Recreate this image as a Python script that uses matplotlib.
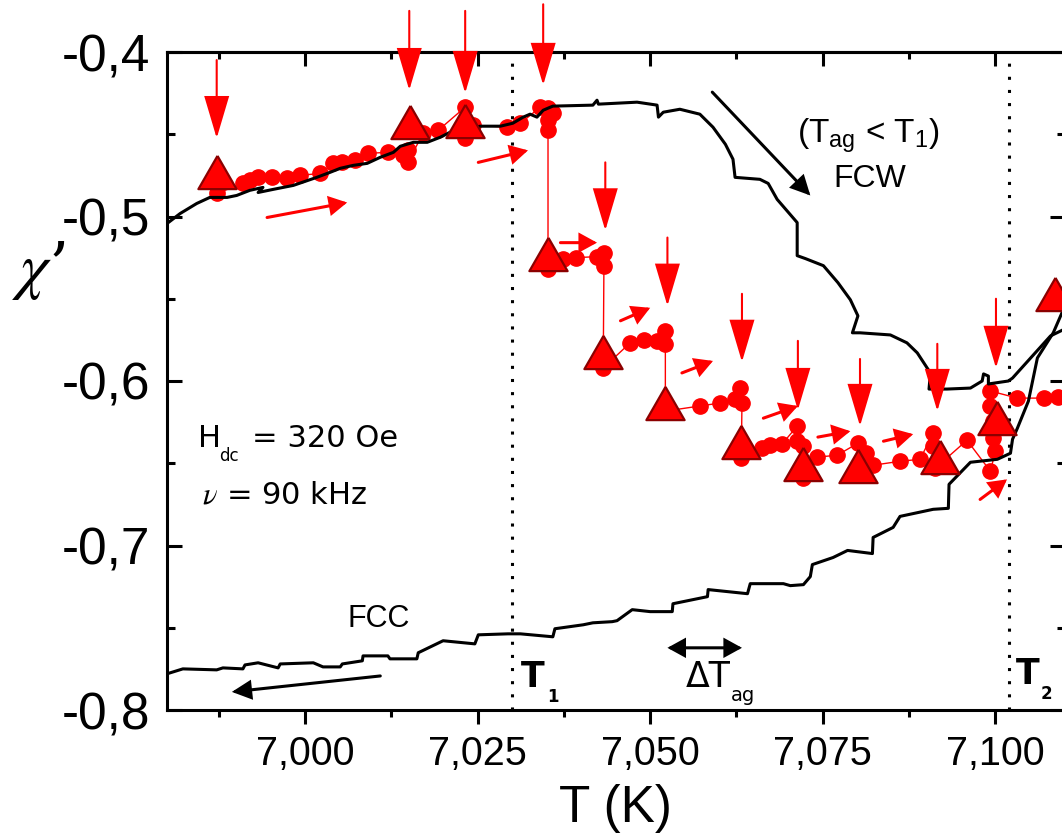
import numpy as np
import matplotlib
matplotlib.use("Agg")
import matplotlib.pyplot as plt
from matplotlib import ticker

plt.rcParams['font.family'] = ['Liberation Sans', 'DejaVu Sans']

# FCW curve (black, upper)
fcw_T = [6.9800, 6.9819, 6.9843, 6.9862, 6.9887, 6.9901, 6.9920, 6.9939, 6.9932, 6.9954,
         6.9983, 7.0017, 7.0036, 7.0051, 7.0070, 7.0090, 7.0109, 7.0128, 7.0138, 7.0157,
         7.0177, 7.0196, 7.0210, 7.0254, 7.0283, 7.0301, 7.0316, 7.0326, 7.0336, 7.0345,
         7.0359, 7.0417, 7.0423, 7.0425, 7.0481, 7.0510, 7.0512, 7.0519, 7.0543, 7.0572,
         7.0591, 7.0609, 7.0620, 7.0623, 7.0659, 7.0671, 7.0684, 7.0713, 7.0713, 7.0725,
         7.0751, 7.0772, 7.0790, 7.0801, 7.0793, 7.0804, 7.0848, 7.0872, 7.0887, 7.0906,
         7.0904, 7.0930, 7.0964, 7.0981, 7.0983, 7.0990, 7.0990, 7.1019, 7.1025, 7.1080,
         7.1101]
fcw_chi = [-0.5043, -0.4982, -0.4921, -0.4884, -0.4884, -0.4872, -0.4841, -0.4823, -0.4854, -0.4835,
           -0.4811, -0.4762, -0.4732, -0.4707, -0.4689, -0.4677, -0.4640, -0.4610, -0.4573, -0.4549,
           -0.4549, -0.4518, -0.4488, -0.4451, -0.4451, -0.4433, -0.4396, -0.4378, -0.4396, -0.4354,
           -0.4329, -0.4323, -0.4293, -0.4317, -0.4305, -0.4323, -0.4396, -0.4366, -0.4348, -0.4378,
           -0.4457, -0.4561, -0.4652, -0.4762, -0.4774, -0.4799, -0.4896, -0.5037, -0.5238, -0.5256,
           -0.5299, -0.5402, -0.5506, -0.5604, -0.5707, -0.5707, -0.5720, -0.5768, -0.5829, -0.5951,
           -0.6049, -0.6049, -0.6043, -0.6000, -0.5957, -0.5970, -0.6018, -0.6000, -0.5982, -0.5726,
           -0.5683]

# FCC curve (black, lower)
fcc_T = [6.9800, 6.9823, 6.9872, 6.9881, 6.9910, 6.9913, 6.9932, 6.9961, 6.9964, 7.0012,
         7.0026, 7.0051, 7.0054, 7.0083, 7.0084, 7.0120, 7.0123, 7.0162, 7.0164, 7.0200,
         7.0246, 7.0251, 7.0294, 7.0312, 7.0359, 7.0362, 7.0403, 7.0417, 7.0445, 7.0452,
         7.0474, 7.0500, 7.0532, 7.0533, 7.0583, 7.0584, 7.0641, 7.0645, 7.0693, 7.0703,
         7.0722, 7.0732, 7.0735, 7.0765, 7.0786, 7.0822, 7.0823, 7.0852, 7.0862, 7.0910,
         7.0932, 7.0933, 7.0964, 7.1003, 7.1022, 7.1025, 7.1032, 7.1048, 7.1061, 7.1084,
         7.1101]
fcc_chi = [-0.7780, -0.7750, -0.7756, -0.7744, -0.7750, -0.7726, -0.7713, -0.7744, -0.7720, -0.7713,
           -0.7738, -0.7738, -0.7720, -0.7701, -0.7671, -0.7671, -0.7689, -0.7689, -0.7652, -0.7579,
           -0.7598, -0.7543, -0.7537, -0.7537, -0.7555, -0.7506, -0.7482, -0.7470, -0.7463, -0.7457,
           -0.7390, -0.7402, -0.7402, -0.7354, -0.7311, -0.7268, -0.7293, -0.7232, -0.7232, -0.7244,
           -0.7238, -0.7189, -0.7116, -0.7073, -0.7030, -0.7049, -0.6951, -0.6890, -0.6823, -0.6780,
           -0.6774, -0.6628, -0.6494, -0.6476, -0.6439, -0.6354, -0.6287, -0.6122, -0.5860, -0.5707,
           -0.5543]

# measured points during the aging protocol (red circles)
pts_T = [6.9872, 6.9910, 6.9920, 6.9932, 6.9952, 6.9974, 6.9993, 7.0022, 7.0041, 7.0054,
         7.0072, 7.0091, 7.0120, 7.0142, 7.0149, 7.0149, 7.0171, 7.0193, 7.0232, 7.0232,
         7.0232, 7.0243, 7.0293, 7.0312, 7.0341, 7.0352, 7.0359, 7.0352, 7.0352, 7.0352,
         7.0374, 7.0393, 7.0423, 7.0433, 7.0433, 7.0432, 7.0471, 7.0491, 7.0510, 7.0522,
         7.0522, 7.0522, 7.0572, 7.0601, 7.0623, 7.0630, 7.0633, 7.0632, 7.0662, 7.0674,
         7.0691, 7.0713, 7.0713, 7.0722, 7.0722, 7.0742, 7.0771, 7.0801, 7.0812, 7.0823,
         7.0862, 7.0891, 7.0910, 7.0910, 7.0913, 7.0959, 7.0993, 7.1000, 7.0996, 7.0996,
         7.0993, 7.0993, 7.1032, 7.1070, 7.1091]
pts_chi = [-0.4860, -0.4799, -0.4780, -0.4762, -0.4762, -0.4768, -0.4750, -0.4738, -0.4677, -0.4671,
           -0.4659, -0.4616, -0.4610, -0.4628, -0.4598, -0.4671, -0.4494, -0.4476, -0.4335, -0.4445,
           -0.4524, -0.4445, -0.4457, -0.4433, -0.4335, -0.4341, -0.4372, -0.4415, -0.4476, -0.5317,
           -0.5256, -0.5250, -0.5244, -0.5220, -0.5299, -0.5921, -0.5768, -0.5750, -0.5756, -0.5695,
           -0.5774, -0.6183, -0.6152, -0.6134, -0.6110, -0.6043, -0.6134, -0.6470, -0.6409, -0.6390,
           -0.6384, -0.6274, -0.6366, -0.6396, -0.6591, -0.6463, -0.6451, -0.6378, -0.6439, -0.6512,
           -0.6488, -0.6476, -0.6317, -0.6396, -0.6530, -0.6360, -0.6549, -0.6427, -0.6348, -0.6244,
           -0.6152, -0.6061, -0.6104, -0.6104, -0.6098]

# aging points (triangles)
ag_T = [6.9872, 7.0152, 7.0232, 7.0352, 7.0432, 7.0522, 7.0632, 7.0722, 7.0801, 7.0920, 7.1002, 7.1086]
ag_chi = [-0.4732, -0.4427, -0.4421, -0.5226, -0.5823, -0.6134, -0.6372, -0.6506, -0.6518, -0.6463, -0.6226, -0.5470]

# vertical red arrows marking the aging stops
down_T = [6.9872, 7.0151, 7.0232, 7.0345, 7.0435, 7.0525, 7.0633, 7.0714, 7.0804, 7.0916, 7.1001]
down_top = [-0.4049, -0.3750, -0.3750, -0.3710, -0.4671, -0.5128, -0.5470, -0.5756, -0.5866, -0.5774, -0.5500]
down_tip = [-0.4524, -0.4232, -0.4250, -0.4201, -0.5085, -0.5543, -0.5884, -0.6177, -0.6274, -0.6183, -0.5921]

# small red arrows showing heating direction
heat_T0 = [6.9945, 7.0251, 7.0370, 7.0457, 7.0546, 7.0664, 7.0743, 7.0838, 7.0978]
heat_c0 = [-0.5006, -0.4671, -0.5159, -0.5634, -0.5951, -0.6226, -0.6341, -0.6366, -0.6720]
heat_T1 = [7.0061, 7.0323, 7.0423, 7.0500, 7.0591, 7.0714, 7.0790, 7.0881, 7.1017]
heat_c1 = [-0.4915, -0.4598, -0.5159, -0.5555, -0.5878, -0.6152, -0.6305, -0.6323, -0.6598]

T1 = 7.030
T2 = 7.102

RED = '#ff0000'

fig = plt.figure(figsize=(10.62, 8.33), dpi=100)
ax = fig.add_axes([167 / 1062, 1 - 710 / 833, (1065 - 167) / 1062, (710 - 52) / 833])


def arrow(tail, tip, color, lw, hl, hw, style='-|>', z=5):
    ax.annotate('', xy=tip, xytext=tail,
                arrowprops=dict(arrowstyle=f'{style},head_length={hl},head_width={hw}',
                                color=color, lw=lw, shrinkA=0, shrinkB=0,
                                mutation_scale=10, joinstyle='miter'),
                zorder=z, annotation_clip=False)


ax.axvline(T1, color='black', lw=2.2, ls=(0, (1, 3.3)), zorder=1)
ax.axvline(T2, color='black', lw=2.2, ls=(0, (1, 3.3)), zorder=1)

ax.plot(pts_T, pts_chi, color=RED, lw=1.0, marker='o', ms=11, mec=RED, mfc=RED, zorder=2)
ax.plot(fcw_T, fcw_chi, color='black', lw=2.2, zorder=3)
ax.plot(fcc_T, fcc_chi, color='black', lw=2.2, zorder=3)

tri = [(0, 0.87), (-1, -0.87), (1, -0.87), (0, 0.87)]
ax.plot(ag_T, ag_chi, ls='none', marker=tri, ms=27.5, mfc=RED, mec='#8b0000', mew=1.6, zorder=4)

for x, y0, y1 in zip(down_T, down_top, down_tip):
    arrow((x, y0), (x, y1), RED, 1.5, 2.7, 0.8)
for x0, y0, x1, y1 in zip(heat_T0, heat_c0, heat_T1, heat_c1):
    arrow((x0, y0), (x1, y1), RED, 2.2, 1.0, 0.55)

# black guide arrows
arrow((7.0590, -0.4244), (7.0732, -0.4872), 'black', 2.2, 1.1, 0.55)
arrow((7.0109, -0.7793), (6.9894, -0.7890), 'black', 2.2, 1.1, 0.55)
arrow((7.0525, -0.7622), (7.0633, -0.7622), 'black', 2.2, 1.0, 0.55, style='<|-|>')

# annotations
ax.text(7.0713, -0.4549, r'(T$_{\mathregular{ag}}$ < T$_{\mathregular{1}}$)', fontsize=24, va='baseline')
ax.text(7.0765, -0.4823, 'FCW', fontsize=23, va='baseline')
ax.text(7.0062, -0.7494, 'FCC', fontsize=22, va='baseline')
ax.text(6.9845, -0.6402, 'H', fontsize=22, va='baseline', family='DejaVu Sans')
ax.text(6.98754, -0.6488, 'dc', fontsize=12, va='baseline', family='DejaVu Sans')
ax.text(6.9923, -0.6402, '= 320 Oe', fontsize=22, va='baseline', family='DejaVu Sans')
ax.text(6.9851, -0.6744, r'$\nu$ = 90 kHz', fontsize=22, va='baseline', family='DejaVu Sans',
        math_fontfamily='stix')
ax.text(7.0551, -0.7860, '\u0394T', fontsize=25, va='baseline', family='DejaVu Sans')
ax.text(7.0617, -0.7945, 'ag', fontsize=14, va='baseline', family='DejaVu Sans')
ax.text(7.0312, -0.7860, 'T', fontsize=25, va='baseline', family='DejaVu Sans', weight='bold')
ax.text(7.0351, -0.7951, '1', fontsize=12, va='baseline', family='DejaVu Sans', weight='bold')
ax.text(7.1030, -0.7841, 'T', fontsize=25, va='baseline', family='DejaVu Sans', weight='bold')
ax.text(7.1065, -0.7933, '2', fontsize=12, va='baseline', family='DejaVu Sans', weight='bold')

ax.set_xlim(6.9800, 7.1101)
ax.set_ylim(-0.8, -0.4)

ax.xaxis.set_major_locator(ticker.MultipleLocator(0.025))
ax.xaxis.set_minor_locator(ticker.MultipleLocator(0.0125))
ax.yaxis.set_major_locator(ticker.MultipleLocator(0.1))
ax.yaxis.set_minor_locator(ticker.MultipleLocator(0.05))
ax.xaxis.set_major_formatter(ticker.FuncFormatter(lambda v, p: f'{v:.3f}'.replace('.', ',')))
ax.yaxis.set_major_formatter(ticker.FuncFormatter(lambda v, p: f'{v:.1f}'.replace('.', ',')))

ax.tick_params(axis='x', which='major', direction='out', length=10, width=2.2, labelsize=28.5, pad=8)
ax.tick_params(axis='x', which='minor', direction='out', length=5, width=2.2)
ax.tick_params(axis='y', which='major', direction='in', length=11, width=2.2, labelsize=37,
               pad=12, right=True)
ax.tick_params(axis='y', which='minor', direction='in', length=6, width=2.2, right=True)
for s in ax.spines.values():
    s.set_linewidth(2.2)

top = ax.secondary_xaxis('top')
top.xaxis.set_major_locator(ticker.MultipleLocator(0.025))
top.xaxis.set_minor_locator(ticker.MultipleLocator(0.0125))
top.tick_params(axis='x', which='major', direction='in', length=10, width=2.2, labeltop=False)
top.tick_params(axis='x', which='minor', direction='in', length=5, width=2.2)
top.spines['top'].set_linewidth(2.2)

fig.text(615 / 1062, 1 - 822 / 833, 'T (K)', ha='center', va='baseline', fontsize=37)
fig.text(12 / 1062, 1 - 287 / 833, '$\\chi$\u2019', ha='left', va='baseline',
         fontsize=46, math_fontfamily='stix', family='DejaVu Serif')

fig.savefig('out.png', dpi=100)
